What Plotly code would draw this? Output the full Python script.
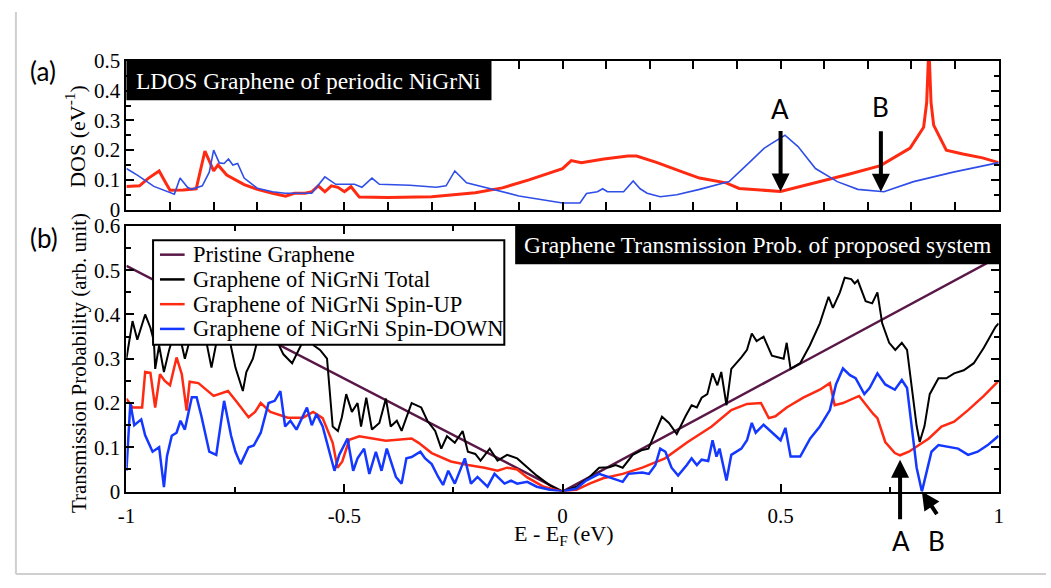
import plotly.graph_objects as go

W, H = 1051, 588

# ---------------- (a) LDOS of graphene in periodic NiGrNi ----------------
ldos_up_e = [-1.00, -0.97, -0.95, -0.925, -0.91, -0.90, -0.87, -0.84, -0.82, -0.80,
             -0.79, -0.77, -0.73, -0.70, -0.665, -0.635, -0.615, -0.59, -0.575, -0.56,
             -0.545, -0.53, -0.515, -0.50, -0.485, -0.466, -0.40, -0.30, -0.20, -0.138,
             -0.077, 0.00, 0.02, 0.043, 0.095, 0.15, 0.17, 0.217, 0.276, 0.314,
             0.375, 0.405, 0.50, 0.58, 0.654, 0.729, 0.797, 0.828, 0.835, 0.840,
             0.845, 0.851, 0.88, 0.918, 0.963, 1.00]
ldos_up = [0.078, 0.08, 0.105, 0.13, 0.09, 0.065, 0.066, 0.07, 0.197, 0.13,
           0.15, 0.116, 0.084, 0.068, 0.055, 0.045, 0.055, 0.055, 0.06, 0.08,
           0.06, 0.08, 0.075, 0.06, 0.077, 0.042, 0.041, 0.043, 0.057, 0.073,
           0.10, 0.138, 0.165, 0.158, 0.17, 0.18, 0.18, 0.158, 0.126, 0.106,
           0.09, 0.071, 0.061, 0.09, 0.118, 0.148, 0.207, 0.277, 0.36, 0.55,
           0.36, 0.284, 0.20, 0.187, 0.174, 0.158]

ldos_dn_e = [-1.00, -0.975, -0.937, -0.89, -0.877, -0.86, -0.85, -0.826, -0.81, -0.80,
             -0.787, -0.776, -0.766, -0.756, -0.745, -0.73, -0.70, -0.665, -0.636, -0.575,
             -0.545, -0.52, -0.477, -0.46, -0.437, -0.42, -0.35, -0.29, -0.267, -0.247,
             -0.22, -0.176, -0.10, 0.00, 0.04, 0.055, 0.08, 0.092, 0.103, 0.14,
             0.162, 0.178, 0.194, 0.224, 0.262, 0.314, 0.382, 0.428, 0.462, 0.477,
             0.51, 0.54, 0.58, 0.63, 0.677, 0.737, 0.805, 0.896, 1.00]
ldos_dn = [0.138, 0.116, 0.078, 0.052, 0.106, 0.075, 0.068, 0.08, 0.126, 0.20,
           0.157, 0.155, 0.17, 0.15, 0.155, 0.106, 0.072, 0.06, 0.055, 0.055,
           0.11, 0.085, 0.085, 0.075, 0.106, 0.085, 0.082, 0.075, 0.08, 0.13,
           0.09, 0.073, 0.046, 0.022, 0.022, 0.054, 0.06, 0.07, 0.06, 0.06,
           0.096, 0.07, 0.055, 0.043, 0.05, 0.068, 0.094, 0.158, 0.206, 0.22,
           0.25, 0.212, 0.138, 0.094, 0.068, 0.06, 0.094, 0.126, 0.158]

# ---------------- (b) transmission probability ----------------
pristine_e = [-1.0, -0.5, 0.0, 0.5, 1.0]
pristine_t = [0.51, 0.255, 0.0, 0.265, 0.53]

total_e = [-1.000, -0.993, -0.986, -0.975, -0.957, -0.945, -0.937, -0.934, -0.925, -0.914,
           -0.902, -0.89, -0.875, -0.866, -0.85, -0.83, -0.815, -0.805, -0.795, -0.78,
           -0.765, -0.75, -0.733, -0.725, -0.71, -0.70, -0.685, -0.665, -0.65, -0.64,
           -0.62, -0.60, -0.585, -0.57, -0.556, -0.54, -0.527, -0.515, -0.506, -0.496,
           -0.483, -0.47, -0.462, -0.45, -0.437, -0.42, -0.405, -0.394, -0.38, -0.369,
           -0.346, -0.324, -0.31, -0.292, -0.278, -0.265, -0.247, -0.229, -0.217, -0.20,
           -0.188, -0.167, -0.149, -0.127, -0.104, -0.081, -0.059, -0.029, 0.000, 0.032,
           0.062, 0.084, 0.107, 0.122, 0.138, 0.161, 0.183, 0.197, 0.213, 0.228,
           0.244, 0.262, 0.282, 0.296, 0.308, 0.319, 0.332, 0.344, 0.355, 0.364,
           0.376, 0.387, 0.41, 0.423, 0.434, 0.445, 0.461, 0.48, 0.507, 0.514,
           0.523, 0.545, 0.567, 0.59, 0.61, 0.620, 0.636, 0.647, 0.662, 0.670,
           0.677, 0.695, 0.71, 0.722, 0.733, 0.749, 0.763, 0.778, 0.79, 0.801,
           0.812, 0.819, 0.830, 0.842, 0.862, 0.88, 0.898, 0.920, 0.943, 0.966,
           0.993, 1.000]
total_t = [0.30, 0.34, 0.385, 0.343, 0.40, 0.37, 0.34, 0.277, 0.33, 0.27,
           0.32, 0.36, 0.34, 0.30, 0.36, 0.37, 0.33, 0.28, 0.33, 0.38,
           0.35, 0.28, 0.227, 0.27, 0.30, 0.34, 0.38, 0.36, 0.33, 0.31,
           0.29, 0.33, 0.35, 0.33, 0.32, 0.30, 0.147, 0.137, 0.168, 0.22,
           0.18, 0.20, 0.147, 0.212, 0.14, 0.155, 0.21, 0.147, 0.16, 0.137,
           0.20, 0.19, 0.16, 0.137, 0.097, 0.125, 0.11, 0.137, 0.09, 0.085,
           0.07, 0.097, 0.07, 0.083, 0.075, 0.055, 0.036, 0.014, 0.0, 0.011,
           0.033, 0.054, 0.055, 0.06, 0.054, 0.083, 0.094, 0.097, 0.133, 0.169,
           0.155, 0.13, 0.17, 0.195, 0.19, 0.212, 0.22, 0.267, 0.24, 0.27,
           0.195, 0.277, 0.303, 0.32, 0.357, 0.34, 0.35, 0.307, 0.30, 0.336,
           0.277, 0.29, 0.33, 0.38, 0.44, 0.415, 0.45, 0.483, 0.48, 0.47,
           0.477, 0.43, 0.425, 0.45, 0.38, 0.336, 0.32, 0.336, 0.32, 0.235,
           0.148, 0.112, 0.148, 0.22, 0.256, 0.256, 0.267, 0.274, 0.29, 0.325,
           0.372, 0.38]

up_e = [-1.000, -0.986, -0.964, -0.957, -0.945, -0.934, -0.923, -0.912, -0.900, -0.885,
        -0.873, -0.862, -0.855, -0.835, -0.80, -0.767, -0.745, -0.72, -0.705, -0.692,
        -0.67, -0.63, -0.595, -0.572, -0.55, -0.527, -0.516, -0.505, -0.489, -0.466,
        -0.405, -0.346, -0.33, -0.30, -0.256, -0.217, -0.179, -0.149, -0.127, -0.104,
        -0.081, -0.043, 0.000, 0.032, 0.062, 0.093, 0.138, 0.183, 0.235, 0.287,
        0.342, 0.387, 0.423, 0.455, 0.473, 0.488, 0.514, 0.552, 0.59, 0.613,
        0.624, 0.643, 0.68, 0.70, 0.712, 0.722, 0.74, 0.762, 0.774, 0.794,
        0.816, 0.84, 0.869, 0.898, 0.93, 0.966, 1.000]
up_t = [0.21, 0.19, 0.19, 0.27, 0.268, 0.19, 0.265, 0.25, 0.24, 0.303,
        0.265, 0.183, 0.248, 0.245, 0.216, 0.227, 0.20, 0.168, 0.18, 0.20,
        0.18, 0.167, 0.167, 0.18, 0.166, 0.11, 0.054, 0.068, 0.117, 0.125,
        0.115, 0.12, 0.11, 0.087, 0.068, 0.06, 0.054, 0.047, 0.054, 0.05,
        0.032, 0.011, 0.0, 0.004, 0.018, 0.03, 0.04, 0.054, 0.075, 0.112,
        0.147, 0.184, 0.198, 0.20, 0.166, 0.17, 0.19, 0.212, 0.23, 0.245,
        0.195, 0.20, 0.216, 0.19, 0.176, 0.166, 0.112, 0.087, 0.082, 0.09,
        0.105, 0.12, 0.147, 0.158, 0.184, 0.216, 0.25]

down_e = [-1.000, -0.991, -0.982, -0.966, -0.957, -0.94, -0.925, -0.914, -0.907, -0.896,
          -0.885, -0.876, -0.866, -0.85, -0.839, -0.828, -0.81, -0.794, -0.776, -0.76,
          -0.75, -0.738, -0.72, -0.708, -0.692, -0.674, -0.66, -0.647, -0.636, -0.624,
          -0.61, -0.586, -0.575, -0.564, -0.55, -0.535, -0.523, -0.512, -0.493, -0.48,
          -0.47, -0.455, -0.443, -0.428, -0.415, -0.403, -0.382, -0.369, -0.358, -0.346,
          -0.326, -0.315, -0.30, -0.285, -0.274, -0.262, -0.247, -0.224, -0.21, -0.195,
          -0.172, -0.156, -0.133, -0.118, -0.104, -0.081, -0.059, -0.029, 0.000, 0.032,
          0.054, 0.084, 0.107, 0.138, 0.151, 0.183, 0.198, 0.213, 0.224, 0.236,
          0.25, 0.265, 0.285, 0.296, 0.308, 0.319, 0.334, 0.344, 0.353, 0.36,
          0.376, 0.387, 0.41, 0.423, 0.434, 0.443, 0.461, 0.484, 0.50, 0.511,
          0.523, 0.545, 0.568, 0.59, 0.613, 0.627, 0.643, 0.659, 0.672, 0.692,
          0.704, 0.722, 0.740, 0.762, 0.778, 0.79, 0.801, 0.812, 0.824, 0.835,
          0.846, 0.862, 0.885, 0.907, 0.930, 0.952, 0.975, 1.000]
down_t = [0.047, 0.20, 0.15, 0.163, 0.127, 0.09, 0.10, 0.01, 0.08, 0.126,
          0.133, 0.16, 0.14, 0.213, 0.213, 0.17, 0.09, 0.083, 0.205, 0.126,
          0.09, 0.062, 0.10, 0.104, 0.133, 0.20, 0.205, 0.227, 0.147, 0.16,
          0.14, 0.19, 0.15, 0.175, 0.147, 0.09, 0.047, 0.083, 0.12, 0.047,
          0.075, 0.097, 0.04, 0.09, 0.047, 0.097, 0.033, 0.018, 0.075, 0.078,
          0.09, 0.075, 0.062, 0.033, 0.015, 0.047, 0.018, 0.075, 0.018, 0.033,
          0.011, 0.04, 0.018, 0.025, 0.018, 0.022, 0.011, 0.004, 0.0, 0.007,
          0.025, 0.04, 0.033, 0.022, 0.04, 0.043, 0.04, 0.06, 0.097, 0.09,
          0.054, 0.036, 0.06, 0.075, 0.06, 0.072, 0.069, 0.116, 0.079, 0.097,
          0.025, 0.083, 0.097, 0.116, 0.155, 0.133, 0.151, 0.13, 0.116, 0.144,
          0.079, 0.079, 0.12, 0.147, 0.184, 0.242, 0.278, 0.263, 0.256, 0.22,
          0.234, 0.267, 0.242, 0.23, 0.252, 0.234, 0.148, 0.054, 0.0, 0.047,
          0.09, 0.105, 0.101, 0.097, 0.083, 0.09, 0.105, 0.126]

legend_labels = ["Pristine Graphene", "Graphene of NiGrNi Total",
                 "Graphene of NiGrNi Spin-UP", "Graphene of NiGrNi Spin-DOWN"]

SERIF = "'Liberation Serif', 'Times New Roman', serif"
SANS = "Lato, 'Open Sans', sans-serif"
RED = "#ff2a12"
BLUE_A = "#2f4ee8"
BLUE_B = "#1438ff"
PURPLE = "#5a1848"
legend_colors = [PURPLE, "black", RED, BLUE_B]


def px(x):
    return x / W


def py(y):
    return 1 - y / H


fig = go.Figure()

fig.add_trace(go.Scatter(x=ldos_up_e, y=ldos_up, mode="lines", xaxis="x", yaxis="y",
                         line=dict(color=RED, width=3)))
fig.add_trace(go.Scatter(x=ldos_dn_e, y=ldos_dn, mode="lines", xaxis="x", yaxis="y",
                         line=dict(color=BLUE_A, width=1.6)))

fig.add_trace(go.Scatter(x=pristine_e, y=pristine_t, mode="lines", xaxis="x2", yaxis="y2",
                         name=legend_labels[0], line=dict(color=PURPLE, width=2.5)))
fig.add_trace(go.Scatter(x=total_e, y=total_t, mode="lines", xaxis="x2", yaxis="y2",
                         name=legend_labels[1], line=dict(color="black", width=2)))
fig.add_trace(go.Scatter(x=up_e, y=up_t, mode="lines", xaxis="x2", yaxis="y2",
                         name=legend_labels[2], line=dict(color=RED, width=2.5)))
fig.add_trace(go.Scatter(x=down_e, y=down_t, mode="lines", xaxis="x2", yaxis="y2",
                         name=legend_labels[3], line=dict(color=BLUE_B, width=2.5)))

axis_common = dict(showline=True, linecolor="black", linewidth=2, mirror="ticks",
                   ticks="inside", ticklen=8, tickwidth=2, tickcolor="black",
                   showgrid=False, zeroline=False,
                   tickfont=dict(family=SERIF, size=21, color="black"))

xdom = [px(119), px(1003)]

fig.update_layout(
    width=W, height=H,
    margin=dict(l=0, r=0, t=0, b=0),
    paper_bgcolor="white", plot_bgcolor="white",
    showlegend=False,
    xaxis=dict(axis_common, domain=xdom, range=[-1, 1], dtick=0.1, tick0=0,
               showticklabels=False, anchor="y"),
    yaxis=dict(axis_common, domain=[py(206), py(51)], range=[0, 0.5], dtick=0.1,
               minor=dict(ticks="inside", ticklen=5, tickwidth=2, dtick=0.05, tickcolor="black"),
               anchor="x"),
    xaxis2=dict(axis_common, domain=xdom, range=[-1, 1],
                tickvals=[-1, -0.5, 0, 0.5, 1], ticktext=["-1", "-0.5", "0", "0.5", "1"],
                ticklabelstandoff=4,
                minor=dict(ticks="inside", ticklen=5, tickwidth=2, dtick=0.25, tickcolor="black"),
                anchor="y2"),
    yaxis2=dict(axis_common, domain=[py(500), py(223)], range=[0, 0.6], dtick=0.1,
                minor=dict(ticks="inside", ticklen=5, tickwidth=2, dtick=0.05, tickcolor="black"),
                anchor="x2"),
)

shapes = [
    # page frame
    dict(type="line", xref="paper", yref="paper", x0=px(7), x1=px(7), y0=py(0), y1=py(586),
         line=dict(color="#cfcfcf", width=2)),
    dict(type="line", xref="paper", yref="paper", x0=px(7), x1=1, y0=py(586), y1=py(586),
         line=dict(color="#cfcfcf", width=2)),
    # title boxes
    dict(type="rect", xref="paper", yref="paper", x0=px(119), x1=px(489), y0=py(92), y1=py(51),
         fillcolor="black", line=dict(width=0)),
    dict(type="rect", xref="paper", yref="paper", x0=px(513), x1=px(1005), y0=py(263), y1=py(222),
         fillcolor="black", line=dict(width=0)),
    # legend frame
    dict(type="rect", xref="paper", yref="paper", x0=px(146), x1=px(502), y0=py(347), y1=py(238),
         fillcolor="white", line=dict(color="black", width=2)),
]

ann = []


def text(x, y, s, size, family=SERIF, color="black", angle=0, xanchor="center"):
    ann.append(dict(xref="paper", yref="paper", x=px(x), y=py(y), text=s, showarrow=False,
                    xanchor=xanchor, yanchor="middle", textangle=angle,
                    font=dict(family=family, size=size, color=color)))


# legend rows: line sample + label
for i, (lab, col) in enumerate(zip(legend_labels, legend_colors)):
    yy = 253 + i * 25.8
    shapes.append(dict(type="line", xref="paper", yref="paper", x0=px(153), x1=px(178),
                       y0=py(yy), y1=py(yy), line=dict(color=col, width=2.5)))
    text(184, yy, lab, 22.5, xanchor="left")

fig.update_layout(shapes=shapes)

text(304, 72, "LDOS Graphene of periodic NiGrNi", 23.5, color="white")
text(759, 243, "Graphene Transmission Prob. of proposed system", 23.5, color="white")
text(34, 62, "(a)", 26, family=SANS)
text(35, 236, "(b)", 26, family=SANS)
text(67, 130, "DOS (eV<sup>-1</sup>)", 22, angle=-90)
text(71, 366, "Transmission Probability (arb. unit)", 21, angle=-90)
text(562, 545, "E - E<sub>F</sub> (eV)", 22)
text(781, 101, "A", 26, family=SANS)
text(883, 99, "B", 26, family=SANS)
text(904, 551, "A", 26, family=SANS)
text(940, 551, "B", 26, family=SANS)


def arrow(xr, yr, x, y, ax, ay):
    ann.append(dict(xref=xr, yref=yr, x=x, y=y, ax=ax, ay=ay, text="", showarrow=True,
                    arrowhead=2, arrowsize=0.9, arrowwidth=4, arrowcolor="black"))


arrow("x", "y", 0.50, 0.061, 0, -62)
arrow("x", "y", 0.73, 0.060, 0, -62)
arrow("x2", "y2", 0.774, 0.072, 0, 61)
arrow("x2", "y2", 0.824, 0.0, 16, 24)

fig.update_layout(annotations=ann)

fig.write_html("out.html")
